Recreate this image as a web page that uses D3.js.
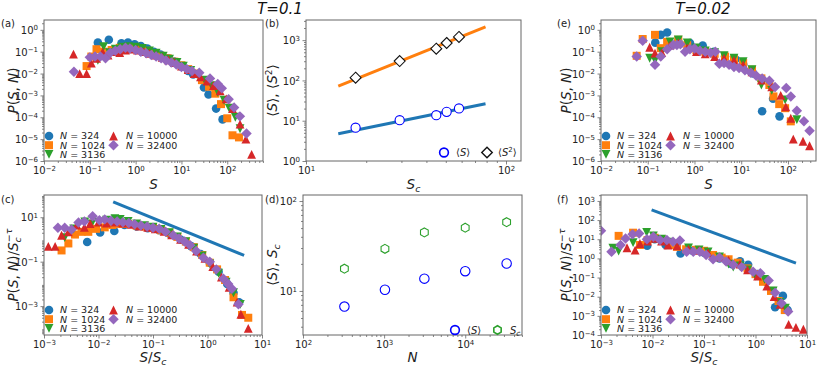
<!DOCTYPE html>
<html>
<head>
<meta charset="utf-8">
<script src="https://cdn.jsdelivr.net/npm/d3@7"></script>
<style>
  body { margin: 0; background: #fff; }
  svg { font-family: "DejaVu Sans", sans-serif; }
</style>
</head>
<body>
<svg id="chart" width="830" height="367"></svg>
<script>
// ---- data ----
const sizesN = [324, 1024, 3136, 10000, 32400];

// (a) T=0.1, P(S,N) vs S
const a324 = [[0.15,0.26],[0.26,0.35],[0.49,0.24],[0.68,0.26],[0.95,0.22],[1.3,0.18],[1.8,0.14],[2.5,0.1],[3.5,0.075],[5,0.05],[7,0.035],[10,0.021],[14,0.013],[18,0.009],[31,0.0023],[39,0.0011],[57,2.5e-4],[79,8e-5]];
const a1024 = [[0.085,0.022],[0.108,0.06],[0.14,0.13],[0.2,0.1],[0.3,0.12],[0.45,0.15],[0.65,0.16],[0.9,0.16],[1.3,0.14],[1.8,0.11],[2.5,0.085],[3.5,0.065],[5,0.05],[7,0.035],[10,0.024],[14,0.016],[20,0.01],[28,0.005],[40,0.0025],[55,0.0012],[73,4e-4],[100,9e-5],[130,1.5e-5],[180,1.2e-5]];
const a3136 = [[0.15,0.04],[0.2,0.17],[0.27,0.09],[0.36,0.13],[0.5,0.16],[0.7,0.17],[1.0,0.16],[1.4,0.14],[2,0.11],[2.8,0.085],[4,0.062],[5.5,0.045],[8,0.032],[11,0.022],[16,0.014],[22,0.009],[32,0.005],[45,0.0028],[62,0.0014],[85,6e-4],[110,2.6e-4],[150,1e-4],[190,3e-5]];
const a10000 = [[0.044,0.077],[0.06,0.01],[0.085,0.01],[0.108,0.03],[0.14,0.05],[0.19,0.095],[0.25,0.07],[0.33,0.1],[0.45,0.09],[0.6,0.12],[0.8,0.13],[1.1,0.12],[1.5,0.1],[2,0.085],[2.8,0.07],[3.8,0.055],[5.2,0.042],[7,0.032],[10,0.022],[14,0.015],[19,0.01],[26,0.007],[36,0.0045],[50,0.0028],[70,0.0016],[95,7e-4],[130,2.5e-4],[190,4.9e-5],[255,1e-5],[340,2e-6]];
const a32400 = [[0.045,0.012],[0.1,0.055],[0.13,0.06],[0.17,0.06],[0.22,0.05],[0.28,0.09],[0.36,0.11],[0.46,0.13],[0.6,0.15],[0.75,0.14],[1.0,0.12],[1.3,0.1],[1.7,0.085],[2.2,0.07],[2.8,0.06],[3.6,0.05],[4.6,0.04],[6,0.032],[7.7,0.026],[10,0.02],[13,0.016],[17,0.013],[24.5,0.011],[42,0.006],[62,0.0033],[76,0.0021],[107,6.6e-4],[141,2.8e-4],[189,1.1e-4],[263,1.8e-5]];

// (b) moments vs Sc, and (d) vs N
const scValues = [17.7, 29.4, 44.8, 50.5, 58.2];
const meanS = [6.7, 10.3, 13.7, 16.6, 20.2];
const meanS2 = [117, 302, 614, 850, 1200];
const fitSc = [14.5, 79];
const fitMeanS = [4.75, 26.5];
const fitMeanS2 = [72.5, 2130];

// (c) T=0.1 collapse
const c324 = [[0.0062,0.77],[0.0107,2.05],[0.0195,2.4],[0.03,4.5],[0.05,3.8],[0.08,3.2],[0.13,2.6],[0.2,1.8],[0.32,1.0],[0.5,0.5],[0.75,0.22],[1.1,0.09],[1.6,0.035],[2.3,0.01],[3.0,0.004],[3.8,0.0015]];
const c1024 = [[0.0021,0.32],[0.0028,0.66],[0.0037,1.66],[0.0049,2.2],[0.0065,2.2],[0.009,3],[0.013,3.5],[0.018,4.5],[0.025,5],[0.035,5],[0.05,4.2],[0.07,3.8],[0.1,3.3],[0.14,2.6],[0.2,2],[0.28,1.3],[0.4,0.8],[0.56,0.45],[0.8,0.2],[1.1,0.09],[1.5,0.045],[2.1,0.015],[3.0,0.0025],[4.3,4e-4],[5.6,3e-4]];
const c3136 = [[0.0024,1.2],[0.0035,3],[0.0056,6.2],[0.0075,5],[0.01,6],[0.014,7.3],[0.02,8.5],[0.025,7.9],[0.035,6.5],[0.05,5],[0.07,4.2],[0.1,3.6],[0.14,2.8],[0.2,2],[0.28,1.3],[0.4,0.8],[0.56,0.4],[0.8,0.18],[1.1,0.08],[1.6,0.03],[2.2,0.012],[3.0,0.004],[4.0,0.0012]];
const c10000 = [[0.0012,0.49],[0.0016,0.49],[0.0021,1.55],[0.0028,2.2],[0.004,4.4],[0.0055,3.5],[0.007,5.2],[0.01,6],[0.014,5.5],[0.02,6],[0.028,5.5],[0.04,4.8],[0.056,4],[0.08,3.5],[0.11,3],[0.16,2.3],[0.22,1.6],[0.32,1],[0.45,0.6],[0.63,0.3],[0.9,0.14],[1.25,0.06],[1.8,0.02],[2.5,0.007],[3.5,0.0015],[4.1,4.3e-4],[5.6,1e-4]];
const c32400 = [[0.0018,3.4],[0.0024,3.4],[0.0032,2.8],[0.0043,5.8],[0.0055,6.5],[0.0078,11],[0.0104,7.3],[0.013,8],[0.017,7],[0.022,6.5],[0.028,6],[0.036,5.5],[0.046,4.8],[0.06,4.2],[0.078,3.8],[0.1,3.4],[0.13,3],[0.17,2.2],[0.235,1.55],[0.3,1.1],[0.38,0.8],[0.48,0.55],[0.62,0.3],[0.84,0.15],[1.1,0.098],[1.45,0.045],[1.96,0.017],[2.4,0.01],[2.8,0.006],[3.7,0.0012]];
const cLineX = [0.0186, 4.7];
const cLineY = [49, 0.19];

// (e) T=0.02, P(S,N) vs S
const e324 = [[0.145,0.26],[0.19,0.59],[0.26,0.75],[0.45,0.3],[0.8,0.25],[1.5,0.19],[2.6,0.1],[4.5,0.06],[7.5,0.045],[11,0.027],[18,0.01],[28,1.9e-4],[48,7e-4],[66,1.1e-4]];
const e1024 = [[0.058,0.065],[0.078,0.38],[0.143,0.59],[0.19,0.145],[0.26,0.28],[0.45,0.35],[0.7,0.2],[1.1,0.12],[1.7,0.1],[2.7,0.08],[4.5,0.06],[7,0.045],[11,0.03],[17,0.015],[27,0.006],[40,0.003],[49,9e-4],[65,4e-4],[87,2.6e-4],[115,6.5e-5]];
const e3136 = [[0.11,0.05],[0.143,0.04],[0.2,0.1],[0.3,0.28],[0.45,0.35],[0.7,0.25],[1.1,0.15],[1.7,0.11],[2.7,0.09],[4.3,0.065],[7,0.05],[11,0.035],[17,0.015],[27,0.003],[45,0.0017],[87,6.3e-4],[155,7.8e-5]];
const e10000 = [[0.11,0.16],[0.143,0.086],[0.2,0.09],[0.3,0.2],[0.45,0.25],[0.7,0.15],[1.1,0.1],[1.7,0.08],[2.7,0.06],[4.3,0.05],[7,0.04],[11,0.025],[17,0.012],[27,0.005],[45,0.0025],[70,0.001],[90,3e-4],[115,9e-5],[130,1e-5],[210,8e-6],[290,5e-6]];
const e32400 = [[0.058,0.06],[0.078,0.32],[0.143,0.025],[0.19,0.06],[0.26,0.13],[0.35,0.2],[0.42,0.2],[0.5,0.22],[0.63,0.1],[0.8,0.13],[1.0,0.14],[1.3,0.11],[1.7,0.1],[2.2,0.09],[2.8,0.1],[3.4,0.028],[4.3,0.03],[5.5,0.025],[7,0.02],[9,0.018],[12,0.014],[16,0.011],[21,0.008],[28,0.006],[40,0.0047],[53,0.0024],[92,0.0022],[115,9e-4],[155,2e-4],[220,6.5e-5],[290,2.4e-5]];

// (f) T=0.02 collapse
const f324 = [[0.0079,4.6],[0.011,10],[0.018,5],[0.035,1.8],[0.06,2.5],[0.1,2],[0.2,1.0],[0.35,0.5],[0.5,0.7],[0.72,0.46],[1.1,0.15],[1.6,0.06],[2.4,0.0028],[3.4,0.011],[4.2,0.002]];
const f1024 = [[0.0022,15],[0.0042,22],[0.0057,5],[0.008,9],[0.011,12],[0.015,10],[0.022,5],[0.03,4],[0.045,3],[0.07,2.8],[0.1,2.5],[0.15,1.5],[0.22,1.1],[0.3,0.9],[0.45,0.6],[0.7,0.3],[1.0,0.15],[1.4,0.06],[2.0,0.02],[2.8,0.006],[3.7,0.002]];
const f3136 = [[0.0017,3.4],[0.0022,2.4],[0.0042,6.6],[0.0077,23],[0.0104,15],[0.015,10],[0.02,7],[0.03,5],[0.05,3.5],[0.08,2.8],[0.12,2.2],[0.2,1.2],[0.3,0.5],[0.37,0.35],[0.5,0.4],[0.7,0.25],[1.0,0.12],[1.5,0.08],[2.2,0.02],[3.0,0.005],[3.8,0.0025]];
const f10000 = [[0.0032,3.6],[0.0046,2.7],[0.0057,6],[0.008,8],[0.011,11],[0.015,8],[0.02,5],[0.03,4.5],[0.05,3],[0.08,2.6],[0.12,2],[0.2,1.2],[0.3,0.8],[0.5,0.5],[0.7,0.25],[1.1,0.12],[1.66,0.036],[2.3,0.01],[3.0,0.004],[4.4,3.6e-4],[6.1,2.5e-4],[8.5,2e-4]];
const f32400 = [[0.001,28],[0.0016,2.2],[0.0024,5],[0.003,11],[0.0041,18],[0.0055,20],[0.0078,10],[0.0104,13.6],[0.014,9],[0.019,9.2],[0.025,7.5],[0.034,8.7],[0.046,2.2],[0.062,2.2],[0.083,2.2],[0.11,1.5],[0.15,0.9],[0.2,1.1],[0.27,0.68],[0.37,0.46],[0.54,0.35],[0.9,0.2],[1.24,0.17],[1.8,0.07],[2.4,0.016],[3.2,0.0045],[4.3,0.0017]];
const fLineX = [0.0096, 6.1];
const fLineY = [340, 0.56];

// ---- drawing ----
const svg = d3.select('#chart');
const spine = '#666';
const tab = ['#1f77b4', '#ff7f0e', '#2ca02c', '#d62728', '#9467bd'];

// matplotlib-like marker shapes as d3 symbol types
const triDown = { draw(ctx, size) { const h = Math.sqrt(size) / 2; ctx.moveTo(0, h); ctx.lineTo(-h, -h); ctx.lineTo(h, -h); ctx.closePath(); } };
const triUp = { draw(ctx, size) { const h = Math.sqrt(size) / 2; ctx.moveTo(0, -h); ctx.lineTo(-h, h); ctx.lineTo(h, h); ctx.closePath(); } };
const diamond = { draw(ctx, size) { const h = Math.sqrt(size) / 2; ctx.moveTo(0, -h); ctx.lineTo(h, 0); ctx.lineTo(0, h); ctx.lineTo(-h, 0); ctx.closePath(); } };
const hexagon = { draw(ctx, size) {
  const r = Math.sqrt(size) / 2;
  for (let i = 0; i < 6; i++) {
    const a = -Math.PI / 2 + i * Math.PI / 3;
    if (i === 0) ctx.moveTo(r * Math.cos(a), r * Math.sin(a)); else ctx.lineTo(r * Math.cos(a), r * Math.sin(a));
  }
  ctx.closePath();
} };

const styles = [
  { color: tab[0], type: d3.symbolCircle, size: 58 },
  { color: tab[1], type: d3.symbolSquare, size: 64 },
  { color: tab[2], type: triDown, size: 78 },
  { color: tab[3], type: triUp, size: 78 },
  { color: tab[4], type: diamond, size: 110 }
];

function richText(sel, parts) {
  parts.forEach(p => {
    const t = sel.append('tspan').text(p.t);
    if (p.i) t.attr('font-style', 'italic');
    if (p.dy) t.attr('dy', p.dy);
    if (p.dx) t.attr('dx', p.dx);
    if (p.fs) t.attr('font-size', p.fs);
  });
  return sel;
}

function minorTicks(domain) {
  const out = [];
  const lo = Math.floor(Math.log10(domain[0])), hi = Math.ceil(Math.log10(domain[1]));
  for (let k = lo; k <= hi; k++) {
    for (let m = 2; m <= 9; m++) {
      const v = m * Math.pow(10, k);
      if (v >= domain[0] * 1.0001 && v <= domain[1] * 0.9999) out.push(v);
    }
  }
  return out;
}

function powLabel(sel) {
  sel.each(function (d) {
    const k = Math.round(Math.log10(d));
    const t = d3.select(this).text(null);
    t.append('tspan').text('10');
    t.append('tspan').attr('dy', '-0.5em').attr('font-size', '7px').text(k < 0 ? '\u2212' + (-k) : String(k));
  });
}

function panel(box) {
  const x = d3.scaleLog().domain(box.xd).range([box.x0, box.x1]);
  const y = d3.scaleLog().domain(box.yd).range([box.y1, box.y0]);
  const g = svg.append('g');
  const cid = 'clip-' + box.name;
  svg.append('clipPath').attr('id', cid).append('rect')
    .attr('x', box.x0).attr('y', box.y0)
    .attr('width', box.x1 - box.x0).attr('height', box.y1 - box.y0);
  const plot = g.append('g').attr('clip-path', `url(#${cid})`);

  // minor ticks
  g.append('g').attr('transform', `translate(0,${box.y1})`)
    .call(d3.axisBottom(x).tickValues(minorTicks(box.xd)).tickSize(2).tickSizeOuter(0).tickFormat(''));
  g.append('g').attr('transform', `translate(${box.x0},0)`)
    .call(d3.axisLeft(y).tickValues(minorTicks(box.yd)).tickSize(2).tickSizeOuter(0).tickFormat(''));
  // major ticks + labels
  const gx = g.append('g').attr('transform', `translate(0,${box.y1})`)
    .call(d3.axisBottom(x).tickValues(box.xt).tickSize(3.5).tickPadding(3).tickSizeOuter(0).tickFormat(''));
  const gy = g.append('g').attr('transform', `translate(${box.x0},0)`)
    .call(d3.axisLeft(y).tickValues(box.yt).tickSize(3.5).tickPadding(2.5).tickSizeOuter(0).tickFormat(''));
  powLabel(gx.selectAll('.tick text'));
  powLabel(gy.selectAll('.tick text'));
  g.selectAll('.domain').remove();
  g.selectAll('.tick line').attr('stroke', spine).attr('stroke-width', 0.8);
  g.selectAll('g').attr('font-family', '"DejaVu Sans", sans-serif').attr('font-size', 10);
  g.selectAll('.tick text').attr('fill', '#222');
  gx.selectAll('.tick text').attr('dy', '0.66em');
  gy.selectAll('.tick text').attr('dy', '0.36em');

  return { x, y, g, plot, box };
}

function frame(p) {
  const b = p.box;
  p.g.append('rect').attr('x', b.x0).attr('y', b.y0)
    .attr('width', b.x1 - b.x0).attr('height', b.y1 - b.y0)
    .attr('fill', 'none').attr('stroke', spine).attr('stroke-width', 1);
}

function scatter(p, data, st) {
  p.plot.append('g').selectAll('path').data(data).join('path')
    .attr('transform', d => `translate(${p.x(d[0])},${p.y(d[1])})`)
    .attr('d', d3.symbol().type(st.type).size(st.size))
    .attr('fill', st.color);
}

function sizeLegend(p) {
  const b = p.box;
  const rows = [b.y1 - 25, b.y1 - 15.8, b.y1 - 6.6];
  sizesN.forEach((n, i) => {
    const col = i < 3 ? 0 : 1;
    const row = i < 3 ? i : i - 3;
    const mx = b.x0 + (col ? 69.5 : 5), tx = b.x0 + (col ? 82 : 16);
    p.g.append('path')
      .attr('transform', `translate(${mx},${rows[row]})`)
      .attr('d', d3.symbol().type(styles[i].type).size(styles[i].size))
      .attr('fill', styles[i].color);
    richText(p.g.append('text').attr('x', tx).attr('y', rows[row] + 3.4).attr('font-size', 9.5).attr('fill', '#222'),
      [{ t: 'N', i: true }, { t: ' = ' + n }]);
  });
}

function yLabel(x, y, parts) {
  richText(svg.append('text').attr('x', x).attr('y', y).attr('text-anchor', 'middle')
    .attr('font-size', 13.5).attr('fill', '#222').attr('transform', `rotate(-90,${x},${y})`), parts);
}
function xLabel(x, y, parts) {
  richText(svg.append('text').attr('x', x).attr('y', y).attr('text-anchor', 'middle')
    .attr('font-size', 13.5).attr('fill', '#222'), parts);
}
function tag(x, y, s) {
  svg.append('text').attr('x', x).attr('y', y).attr('font-size', 10).attr('fill', '#222').text(s);
}

const pLabel = [{ t: 'P', i: true }, { t: '(' }, { t: 'S', i: true }, { t: ', ' }, { t: 'N', i: true }, { t: ')' }];
const pcLabel = pLabel.concat([{ t: '/' }, { t: 'S', i: true }, { t: 'c', i: true, dy: 3, fs: 9.5 },
  { t: '\u2212\u03c4', i: true, dx: -5, dy: -9, fs: 9.5 }]);
const sLabel = [{ t: 'S', i: true }];
const scLabel = [{ t: 'S', i: true }, { t: 'c', i: true, dy: 3, fs: 9.5 }];
const ratioLabel = [{ t: 'S', i: true }, { t: '/' }, { t: 'S', i: true }, { t: 'c', i: true, dy: 3, fs: 9.5 }];

const decades = (a, b) => d3.range(a, b + 1).map(k => Math.pow(10, k));

// ---------- (a) ----------
const pa = panel({ name: 'a', x0: 44, x1: 263, y0: 20, y1: 161, xd: [1e-2, Math.pow(10, 2.78)], yd: [1e-6, Math.pow(10, 0.45)],
  xt: decades(-2, 2), yt: decades(-6, 0) });
[a324, a1024, a3136, a10000, a32400].forEach((d, i) => scatter(pa, d, styles[i]));
frame(pa);
sizeLegend(pa);

// ---------- (b) ----------
const pb = panel({ name: 'b', x0: 306, x1: 521, y0: 20, y1: 161, xd: [10, Math.pow(10, 2.075)], yd: [1, Math.pow(10, 3.5)],
  xt: decades(1, 2), yt: decades(0, 3) });
const fitLine = d3.line().x(d => pb.x(d[0])).y(d => pb.y(d[1]));
pb.plot.append('path').datum(d3.zip(fitSc, fitMeanS)).attr('d', fitLine)
  .attr('stroke', tab[0]).attr('stroke-width', 3).attr('fill', 'none');
pb.plot.append('path').datum(d3.zip(fitSc, fitMeanS2)).attr('d', fitLine)
  .attr('stroke', tab[1]).attr('stroke-width', 3).attr('fill', 'none');
pb.plot.append('g').selectAll('path').data(d3.zip(scValues, meanS)).join('path')
  .attr('transform', d => `translate(${pb.x(d[0])},${pb.y(d[1])})`)
  .attr('d', d3.symbol().type(d3.symbolCircle).size(66))
  .attr('fill', '#fff').attr('stroke', 'blue').attr('stroke-width', 1.1);
pb.plot.append('g').selectAll('path').data(d3.zip(scValues, meanS2)).join('path')
  .attr('transform', d => `translate(${pb.x(d[0])},${pb.y(d[1])})`)
  .attr('d', d3.symbol().type(diamond).size(120))
  .attr('fill', '#fff').attr('stroke', '#111').attr('stroke-width', 1.1);
frame(pb);
pb.g.append('path').attr('transform', 'translate(444,152.5)').attr('d', d3.symbol().type(d3.symbolCircle).size(60))
  .attr('fill', 'none').attr('stroke', 'blue').attr('stroke-width', 1.6);
richText(pb.g.append('text').attr('x', 456).attr('y', 156).attr('font-size', 10).attr('fill', '#222'),
  [{ t: '\u27e8' }, { t: 'S', i: true }, { t: '\u27e9' }]);
pb.g.append('path').attr('transform', 'translate(487,152.5)').attr('d', d3.symbol().type(diamond).size(110))
  .attr('fill', 'none').attr('stroke', '#111').attr('stroke-width', 1.4);
richText(pb.g.append('text').attr('x', 498).attr('y', 156).attr('font-size', 10).attr('fill', '#222'),
  [{ t: '\u27e8' }, { t: 'S', i: true }, { t: '2', dy: -4, fs: 7 }, { t: '\u27e9', dy: 4 }]);

// ---------- (c) ----------
const pc = panel({ name: 'c', x0: 44, x1: 262, y0: 195, y1: 335, xd: [1e-3, 10], yd: [Math.pow(10, -4.3), 100],
  xt: decades(-3, 1), yt: [10, 0.1, 0.001] });
pc.plot.append('path').datum(d3.zip(cLineX, cLineY))
  .attr('d', d3.line().x(d => pc.x(d[0])).y(d => pc.y(d[1])))
  .attr('stroke', tab[0]).attr('stroke-width', 3).attr('fill', 'none');
[c324, c1024, c3136, c10000, c32400].forEach((d, i) => scatter(pc, d, styles[i]));
frame(pc);
sizeLegend(pc);

// ---------- (d) ----------
const pd = panel({ name: 'd', x0: 303, x1: 522, y0: 195, y1: 335, xd: [100, Math.pow(10, 4.7)], yd: [Math.pow(10, 0.51), Math.pow(10, 2.067)],
  xt: decades(2, 4), yt: decades(1, 2) });
pd.plot.append('g').selectAll('path').data(d3.zip(sizesN, meanS)).join('path')
  .attr('transform', d => `translate(${pd.x(d[0])},${pd.y(d[1])})`)
  .attr('d', d3.symbol().type(d3.symbolCircle).size(70))
  .attr('fill', 'none').attr('stroke', 'blue').attr('stroke-width', 1.1);
pd.plot.append('g').selectAll('path').data(d3.zip(sizesN, scValues)).join('path')
  .attr('transform', d => `translate(${pd.x(d[0])},${pd.y(d[1])})`)
  .attr('d', d3.symbol().type(hexagon).size(80))
  .attr('fill', 'none').attr('stroke', tab[2]).attr('stroke-width', 1.1);
frame(pd);
pd.g.append('path').attr('transform', 'translate(455,330)').attr('d', d3.symbol().type(d3.symbolCircle).size(60))
  .attr('fill', 'none').attr('stroke', 'blue').attr('stroke-width', 1.6);
richText(pd.g.append('text').attr('x', 467).attr('y', 333.5).attr('font-size', 10).attr('fill', '#222'),
  [{ t: '\u27e8' }, { t: 'S', i: true }, { t: '\u27e9' }]);
pd.g.append('path').attr('transform', 'translate(497.5,330)').attr('d', d3.symbol().type(hexagon).size(72))
  .attr('fill', 'none').attr('stroke', tab[2]).attr('stroke-width', 1.6);
richText(pd.g.append('text').attr('x', 510).attr('y', 333.5).attr('font-size', 10).attr('fill', '#222'),
  [{ t: 'S', i: true }, { t: 'c', i: true, dy: 2.5, fs: 7.5 }]);

// ---------- (e) ----------
const pe = panel({ name: 'e', x0: 601, x1: 816, y0: 20, y1: 161, xd: [1e-2, Math.pow(10, 2.6)], yd: [1e-6, Math.pow(10, 0.45)],
  xt: decades(-2, 2), yt: decades(-6, 0) });
[e324, e1024, e3136, e10000, e32400].forEach((d, i) => scatter(pe, d, styles[i]));
frame(pe);
sizeLegend(pe);

// ---------- (f) ----------
const pf = panel({ name: 'f', x0: 601, x1: 807, y0: 195, y1: 335, xd: [1e-3, 10], yd: [1e-4, Math.pow(10, 3.31)],
  xt: decades(-3, 1), yt: decades(-4, 3) });
pf.plot.append('path').datum(d3.zip(fLineX, fLineY))
  .attr('d', d3.line().x(d => pf.x(d[0])).y(d => pf.y(d[1])))
  .attr('stroke', tab[0]).attr('stroke-width', 3).attr('fill', 'none');
[f324, f1024, f3136, f10000, f32400].forEach((d, i) => scatter(pf, d, styles[i]));
frame(pf);
sizeLegend(pf);

// ---------- labels ----------
yLabel(18, 90.5, pLabel);
yLabel(18, 265, pcLabel);
yLabel(571, 90.5, pLabel);
yLabel(571, 265, pcLabel);
yLabel(277, 90.5, [{ t: '\u27e8' }, { t: 'S', i: true }, { t: '\u27e9, \u27e8' }, { t: 'S', i: true }, { t: '2', dy: -5, fs: 9 }, { t: '\u27e9', dy: 5 }]);
yLabel(277, 265, [{ t: '\u27e8' }, { t: 'S', i: true }, { t: '\u27e9, ' }, { t: 'S', i: true }, { t: 'c', i: true, dy: 3, fs: 9.5 }]);

xLabel(153.5, 189, sLabel);
xLabel(413.5, 189, scLabel);
xLabel(708.5, 189, sLabel);
xLabel(153, 362, ratioLabel);
xLabel(412.5, 362, [{ t: 'N', i: true }]);
xLabel(704, 362, ratioLabel);

tag(1, 27, '(a)'); tag(265, 27, '(b)'); tag(557, 27, '(e)');
tag(1, 203, '(c)'); tag(265, 203, '(d)'); tag(557, 203, '(f)');

svg.append('text').attr('x', 280).attr('y', 13.5).attr('text-anchor', 'middle')
  .attr('font-size', 15).attr('font-style', 'italic').attr('fill', '#111').text('T=0.1');
svg.append('text').attr('x', 703).attr('y', 13.5).attr('text-anchor', 'middle')
  .attr('font-size', 15).attr('font-style', 'italic').attr('fill', '#111').text('T=0.02');
</script>
</body>
</html>
